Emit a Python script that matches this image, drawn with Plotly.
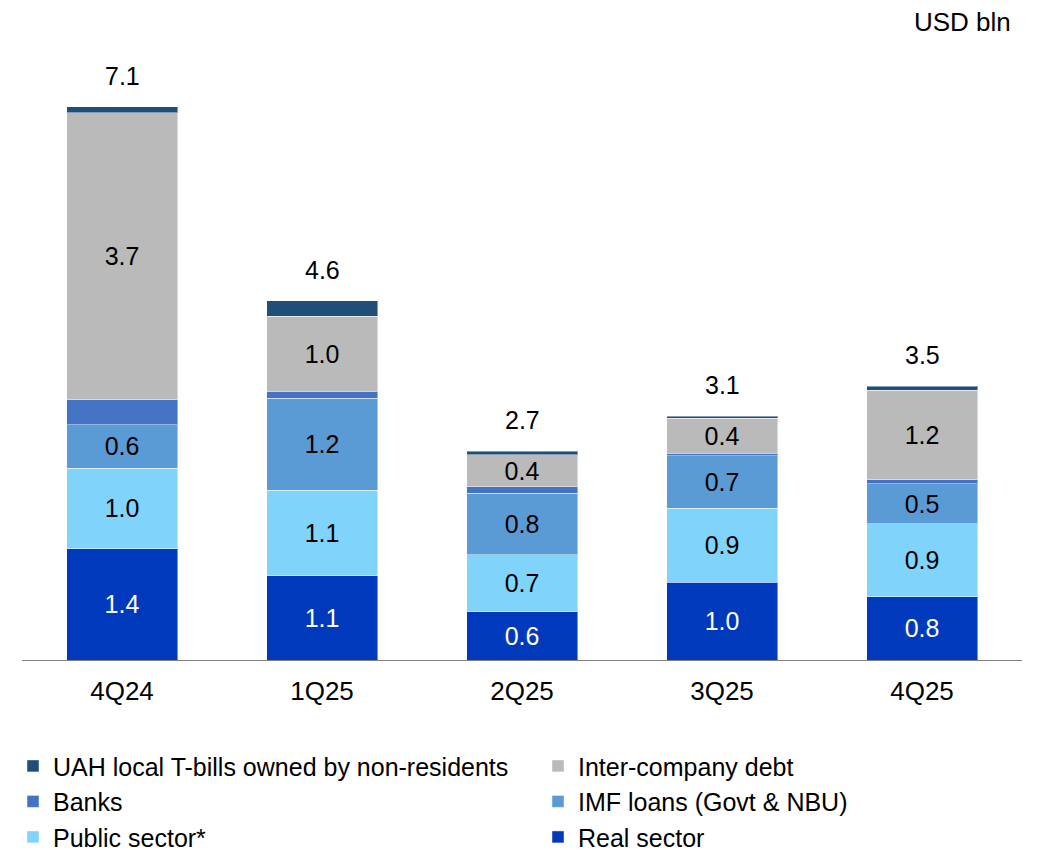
import plotly.graph_objects as go

# quarters on the x axis
quarters = ["4Q24", "1Q25", "2Q25", "3Q25", "4Q25"]

# segment heights, USD bln
real_sector = [1.43, 1.08, 0.62, 1.00, 0.81]
public_sector = [1.03, 1.10, 0.73, 0.95, 0.94]
imf_loans = [0.56, 1.18, 0.79, 0.67, 0.51]
banks = [0.32, 0.09, 0.08, 0.03, 0.05]
inter_company = [3.68, 0.96, 0.41, 0.45, 1.15]
t_bills = [0.08, 0.20, 0.05, 0.03, 0.05]

# labels printed on the chart
real_labels = ["1.4", "1.1", "0.6", "1.0", "0.8"]
public_labels = ["1.0", "1.1", "0.7", "0.9", "0.9"]
imf_labels = ["0.6", "1.2", "0.8", "0.7", "0.5"]
interco_labels = ["3.7", "1.0", "0.4", "0.4", "1.2"]
total_labels = ["7.1", "4.6", "2.7", "3.1", "3.5"]

FONT = "Liberation Sans, Arial, sans-serif"

# name, values, labels, colour, label colour, legend column
series = [
    ("Real sector", real_sector, real_labels, "#0039BC", "white", "legend2"),
    ("Public sector*", public_sector, public_labels, "#80D4FC", "black", "legend"),
    ("IMF loans (Govt & NBU)", imf_loans, imf_labels, "#5B9BD5", "black", "legend2"),
    ("Banks", banks, None, "#4472C4", "black", "legend"),
    ("Inter-company debt", inter_company, interco_labels, "#BABABA", "black", "legend2"),
    ("UAH local T-bills owned by non-residents", t_bills, None, "#1F4E79", "black", "legend"),
]

fig = go.Figure()
for name, vals, labels, color, tcolor, leg in series:
    fig.add_trace(go.Bar(
        x=quarters,
        y=vals,
        name=name,
        legend=leg,
        marker=dict(color=color, line=dict(color="rgba(255,255,255,0.45)", width=1)),
        text=labels,
        texttemplate="%{text}" if labels else None,
        textposition="inside" if labels else "none",
        insidetextanchor="middle",
        textangle=0,
        constraintext="none",
        textfont=dict(family=FONT, size=25, color=tcolor),
        width=0.555,
        hoverinfo="skip",
    ))

totals = [sum(v) for v in zip(real_sector, public_sector, imf_loans, banks, inter_company, t_bills)]
for q, tot, lab in zip(quarters, totals, total_labels):
    fig.add_annotation(x=q, y=tot, text=lab, showarrow=False, yanchor="bottom",
                       yshift=15, font=dict(family=FONT, size=25, color="black"))

fig.add_annotation(x=1, y=1, xref="paper", yref="paper", xanchor="right", yanchor="middle",
                   text="USD bln", showarrow=False, yshift=30, xshift=-9,
                   font=dict(family=FONT, size=26, color="black"))

legend_style = dict(
    orientation="v",
    traceorder="reversed",
    yanchor="top",
    y=-0.1368,
    xanchor="left",
    font=dict(family=FONT, size=25, color="black"),
    itemwidth=30,
    tracegroupgap=0,
    bgcolor="rgba(0,0,0,0)",
)

fig.update_layout(
    barmode="stack",
    width=1038,
    height=850,
    margin=dict(l=14, r=24, t=44, b=198, autoexpand=False),
    plot_bgcolor="white",
    paper_bgcolor="white",
    font=dict(family=FONT, size=25, color="black"),
    showlegend=True,
    legend=dict(x=-0.009, **legend_style),
    legend2=dict(x=0.516, **legend_style),
)
fig.update_xaxes(
    showline=True, linecolor="#808080", linewidth=1,
    ticks="", ticklabelstandoff=8, showgrid=False,
    tickfont=dict(family=FONT, size=26, color="black"),
)
fig.update_yaxes(range=[0, 7.8], visible=False, showgrid=False)

fig.write_html("out.html")
